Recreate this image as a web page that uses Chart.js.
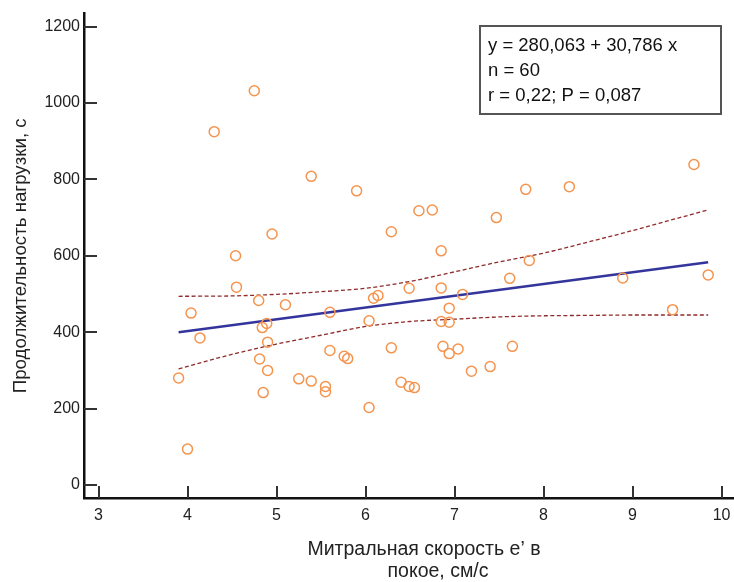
<!DOCTYPE html>
<html>
<head>
<meta charset="utf-8">
<script src="https://cdn.jsdelivr.net/npm/chart.js@4.4.0/dist/chart.umd.min.js"></script>
<style>
  body { margin: 0; background: #fff; }
  #wrap { width: 734px; height: 582px; }
</style>
</head>
<body>
<div id="wrap"><canvas id="myChart" width="734" height="582"></canvas></div>
<script>
// scatter points
const pointsX = [4.75, 4.30, 5.39, 5.90, 4.95, 4.54, 9.69, 7.80, 8.29, 6.60,
                 6.75, 7.47, 6.29, 6.85, 7.84, 4.55, 4.04, 4.80, 5.10, 4.14,
                 4.84, 4.89, 4.90, 5.60, 5.60, 4.81, 4.90, 5.76, 5.80, 3.90,
                 5.25, 5.39, 5.55, 5.55, 4.85, 4.00, 6.04, 6.04, 6.09, 6.14,
                 6.49, 6.85, 7.62, 7.09, 6.94, 6.85, 6.94, 6.29, 6.87, 6.94,
                 7.04, 7.65, 6.40, 6.49, 6.55, 7.19, 7.40, 8.89, 9.45, 9.85];
const pointsY = [1032, 925, 808, 770, 657, 600, 839, 774, 781, 718,
                 720, 700, 663, 613, 588, 518, 450, 483, 472, 385,
                 412, 423, 374, 452, 352, 330, 300, 337, 331, 280,
                 278, 272, 258, 244, 242, 94, 203, 430, 489, 496,
                 515, 516, 541, 499, 463, 428, 426, 359, 363, 344,
                 356, 363, 269, 258, 255, 298, 310, 542, 459, 550];

// regression line ends
const fitX = [3.9, 9.85];
const fitY = [400, 583];

// confidence band
const bandX = [3.9, 4.5, 5, 5.5, 6, 6.5, 7, 7.5, 8, 8.5, 9, 9.5, 9.85];
const bandUpper = [494, 495, 499, 506, 515, 533, 558, 584, 607, 636, 666, 698, 720];
const bandLower = [304, 342, 369, 392, 415, 428, 434, 440, 443, 444, 445, 445, 445];

const xTicks = [3, 4, 5, 6, 7, 8, 9, 10];
const yTicks = [0, 200, 400, 600, 800, 1000, 1200];

const statLines = ['y = 280,063 + 30,786 x', 'n = 60', 'r = 0,22; P = 0,087'];
const xTitleLines = ['Митральная скорость е’ в', 'покое, см/с'];
const yTitle = 'Продолжительность нагрузки, с';

const FONT = '"Liberation Sans", Arial, sans-serif';
Chart.defaults.font.family = FONT;
Chart.defaults.color = '#222';

function toXY(xs, ys) {
    return xs.map((x, i) => ({ x: x, y: ys[i] }));
}

// inward tick marks, stats box and x title
const decorPlugin = {
    id: 'decor',
    afterDraw(chart) {
        const ctx = chart.ctx;
        const xs = chart.scales.x;
        const ys = chart.scales.y;
        const area = chart.chartArea;
        ctx.save();
        ctx.strokeStyle = '#333';
        ctx.lineWidth = 2;
        xTicks.forEach(v => {
            const px = Math.round(xs.getPixelForValue(v));
            ctx.beginPath();
            ctx.moveTo(px, area.bottom);
            ctx.lineTo(px, area.bottom - 12);
            ctx.stroke();
        });
        yTicks.forEach(v => {
            const py = Math.round(ys.getPixelForValue(v));
            ctx.beginPath();
            ctx.moveTo(area.left, py);
            ctx.lineTo(area.left + 13, py);
            ctx.stroke();
        });

        // stats box
        ctx.strokeStyle = '#555';
        ctx.lineWidth = 2;
        ctx.strokeRect(480, 26, 241, 88);
        ctx.fillStyle = '#111';
        ctx.font = '18.5px ' + FONT;
        ctx.textBaseline = 'alphabetic';
        ctx.textAlign = 'left';
        statLines.forEach((t, i) => {
            ctx.fillText(t, 488, 51 + i * 25);
        });

        // x axis title
        ctx.fillStyle = '#222';
        ctx.font = '19.5px ' + FONT;
        ctx.textAlign = 'center';
        ctx.fillText(xTitleLines[0], 424, 555);
        ctx.fillText(xTitleLines[1], 438, 577);
        ctx.restore();
    }
};

const ctx = document.getElementById('myChart').getContext('2d');
const myChart = new Chart(ctx, {
    type: 'scatter',
    data: {
        datasets: [{
            label: 'points',
            data: toXY(pointsX, pointsY),
            pointRadius: 5,
            pointBorderWidth: 1.5,
            pointBorderColor: '#f5944e',
            pointBackgroundColor: 'rgba(255,255,255,0)',
            order: 0
        }, {
            label: 'fit',
            data: toXY(fitX, fitY),
            showLine: true,
            borderColor: '#34359c',
            borderWidth: 2.6,
            pointRadius: 0,
            order: 1
        }, {
            label: 'upper',
            data: toXY(bandX, bandUpper),
            showLine: true,
            borderColor: '#8f2b2b',
            borderWidth: 1.3,
            borderDash: [4, 2.5],
            cubicInterpolationMode: 'monotone',
            pointRadius: 0,
            order: 2
        }, {
            label: 'lower',
            data: toXY(bandX, bandLower),
            showLine: true,
            borderColor: '#8f2b2b',
            borderWidth: 1.3,
            borderDash: [4, 2.5],
            cubicInterpolationMode: 'monotone',
            pointRadius: 0,
            order: 2
        }]
    },
    options: {
        responsive: false,
        animation: false,
        layout: { autoPadding: false, padding: { top: 12, right: 0, left: 0, bottom: 0 } },
        plugins: {
            legend: { display: false },
            tooltip: { enabled: false }
        },
        scales: {
            x: {
                type: 'linear',
                min: 2.837,
                max: 10.14,
                afterBuildTicks: s => { s.ticks = xTicks.map(v => ({ value: v })); },
                afterFit: s => { s.height = 84; s.paddingRight = 0; s.paddingLeft = 0; },
                grid: { display: false, drawTicks: false },
                border: { display: true, color: '#111', width: 2.5 },
                ticks: {
                    padding: 8, font: { size: 16 }, color: '#222', maxRotation: 0, autoSkip: false,
                    callback: v => String(v)
                }
            },
            y: {
                type: 'linear',
                min: -34,
                max: 1234,
                afterBuildTicks: s => { s.ticks = yTicks.map(v => ({ value: v })); },
                afterFit: s => { s.width = 84; },
                grid: { display: false, drawTicks: false },
                border: { display: true, color: '#111', width: 2.5 },
                ticks: {
                    padding: 4, font: { size: 16 }, color: '#222', autoSkip: false,
                    callback: v => String(v)
                },
                title: {
                    display: true,
                    text: yTitle,
                    font: { size: 18.7 },
                    color: '#222',
                    padding: { top: 10, bottom: 0 }
                }
            }
        }
    },
    plugins: [decorPlugin]
});
</script>
</body>
</html>
